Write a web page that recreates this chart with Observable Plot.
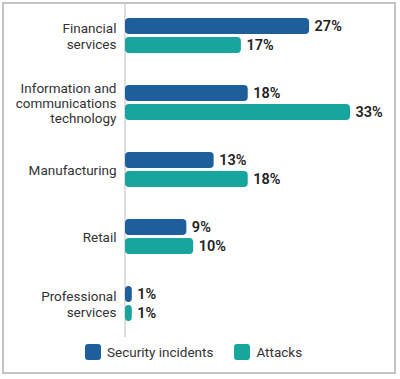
<!DOCTYPE html>
<html>
<head>
<meta charset="utf-8">
<script src="https://cdn.jsdelivr.net/npm/d3@7"></script>
<script src="https://cdn.jsdelivr.net/npm/@observablehq/plot@0.6"></script>
<style>
  html, body { margin: 0; padding: 0; background: #fff; }
  body { width: 400px; height: 379px; position: relative; font-family: Roboto, sans-serif; }
  #box { position: absolute; left: 2px; top: 2px; width: 390px; height: 368px; border: 2px solid #c4c4c4; overflow: hidden; }
  #chart { position: absolute; left: -4px; top: -4px; width: 400px; height: 339px; }
  #chart svg { max-width: none !important; display: block; }
  #legend { position: absolute; left: 85px; top: 344px; display: flex; align-items: center; font-size: 13.5px; color: #333; }
  .sw { width: 16px; height: 16px; border-radius: 3px; margin-right: 6px; }
  .item { display: flex; align-items: center; margin-right: 21px; }
</style>
</head>
<body>
<div id="box"><div id="chart"></div></div>
<div id="legend"></div>
<script>
const categories = ["Financial services", "Information and communications technology", "Manufacturing", "Retail", "Professional services"];
const categoryLabels = ["Financial\nservices", "Information and\ncommunications\ntechnology", "Manufacturing", "Retail", "Professional\nservices"];
const seriesNames = ["Security incidents", "Attacks"];
const securityIncidents = [27, 18, 13, 9, 1];
const attacks = [17, 33, 18, 10, 1];
const colors = ["#1d5e9b", "#17a59d"];

const rows = [];
categories.forEach((c, i) => {
  rows.push({category: c, series: seriesNames[0], value: securityIncidents[i]});
  rows.push({category: c, series: seriesNames[1], value: attacks[i]});
});
const labelRows = categories.map((c, i) => ({category: c, label: categoryLabels[i]}));

const chart = Plot.plot({
  width: 400,
  height: 339,
  marginTop: 0,
  marginBottom: 0,
  marginLeft: 125,
  marginRight: 50,
  style: {fontFamily: "Roboto, sans-serif", background: "transparent"},
  x: {domain: [0, 33], axis: null},
  y: {domain: seriesNames, axis: null, paddingInner: 0.175, paddingOuter: 0.78},
  fy: {domain: categories, axis: null, padding: 0},
  color: {domain: seriesNames, range: colors},
  marks: [
    Plot.ruleX([0], {stroke: "#c8c8c8", strokeWidth: 1.2, dx: -0.5}),
    Plot.barX(rows, {fy: "category", y: "series", x: "value", fill: "series", rx: 4}),
    Plot.text(rows, {fy: "category", y: "series", x: "value", text: d => d.value + "%", dx: 5, textAnchor: "start", fontWeight: 600, fontSize: 14.5, fill: "#222"}),
    Plot.text(labelRows, {fy: "category", text: "label", frameAnchor: "left", textAnchor: "end", dx: -9, fontSize: 13.5, fill: "#333", lineHeight: 1.13})
  ]
});
document.getElementById("chart").appendChild(chart);

const legend = document.getElementById("legend");
seriesNames.forEach((s, i) => {
  const item = document.createElement("div");
  item.className = "item";
  const sw = document.createElement("div");
  sw.className = "sw";
  sw.style.background = colors[i];
  const t = document.createElement("span");
  t.textContent = s;
  item.appendChild(sw);
  item.appendChild(t);
  legend.appendChild(item);
});
</script>
</body>
</html>
